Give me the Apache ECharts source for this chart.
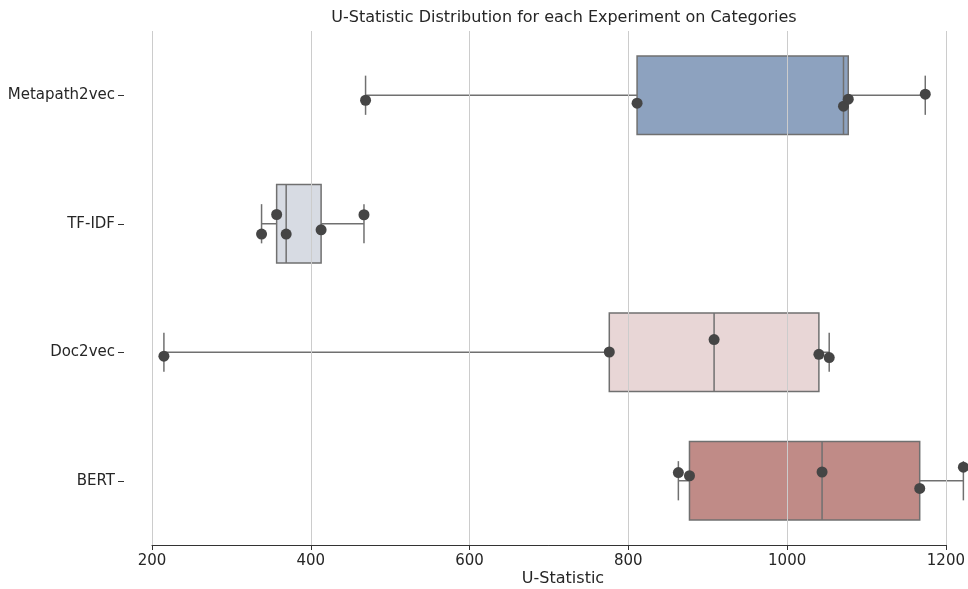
<!DOCTYPE html>
<html>
<head>
<meta charset="utf-8">
<script src="https://cdn.jsdelivr.net/npm/echarts@6/dist/echarts.min.js"></script>
<style>
  html, body { margin: 0; padding: 0; background: #ffffff; }
  #chart { width: 968px; height: 589px; }
</style>
</head>
<body>
<div id="chart"></div>
<script>
// ---- data ----
const categories = ['Metapath2vec', 'TF-IDF', 'Doc2vec', 'BERT'];
const metapath2vec = [469, 811, 1071, 1077, 1174];
const tfidf = [338, 357, 369, 413, 467];
const doc2vec = [215, 776, 908, 1040, 1053];
const bert = [863, 877, 1044, 1167, 1222];
// vertical strip-plot jitter (in category units), same order as the values
const jitterMetapath2vec = [0.039, 0.062, 0.085, 0.031, -0.008];
const jitterTfidf = [0.080, -0.072, 0.080, 0.047, -0.070];
const jitterDoc2vec = [0.031, -0.002, -0.099, 0.016, 0.041];
const jitterBert = [-0.064, -0.039, -0.068, 0.060, -0.106];
const xTicks = [200, 400, 600, 800, 1000, 1200];

const groups = [metapath2vec, tfidf, doc2vec, bert];
const jitters = [jitterMetapath2vec, jitterTfidf, jitterDoc2vec, jitterBert];
const boxColors = ['#8da2bf', '#d7dbe3', '#e8d6d6', '#c08b87'];

function quantile(sorted, p) {
  const pos = (sorted.length - 1) * p;
  const lo = Math.floor(pos), hi = Math.ceil(pos);
  return sorted[lo] + (sorted[hi] - sorted[lo]) * (pos - lo);
}
const boxData = groups.map((g, i) => {
  const s = g.slice().sort((a, b) => a - b);
  return [i, s[0], quantile(s, 0.25), quantile(s, 0.5), quantile(s, 0.75), s[s.length - 1]];
});
const pointData = [];
groups.forEach((g, i) => g.forEach((v, k) => pointData.push([v, i + jitters[i][k]])));

const FONT = 'DejaVu Sans';
const chart = echarts.init(document.getElementById('chart'), null, { renderer: 'canvas' });

chart.setOption({
  animation: false,
  backgroundColor: '#ffffff',
  title: [
    {
      text: 'U-Statistic Distribution for each Experiment on Categories',
      left: 564, top: 10, padding: 0, textAlign: 'center',
      textStyle: { fontFamily: FONT, fontSize: 16, fontWeight: 'normal', color: '#262626' }
    },
    {
      text: 'U-Statistic',
      left: 563, top: 571, padding: 0, textAlign: 'center',
      textStyle: { fontFamily: FONT, fontSize: 16, fontWeight: 'normal', color: '#262626' }
    }
  ],
  grid: { left: 152, width: 794, top: 31, height: 514, containLabel: false },
  xAxis: {
    type: 'value', min: xTicks[0], max: xTicks[xTicks.length - 1], interval: 200,
    z: 2,
    axisLine: { show: true, onZero: false, lineStyle: { color: '#333333', width: 1 } },
    axisTick: { show: true, length: 5, lineStyle: { color: '#333333' } },
    axisLabel: { fontFamily: FONT, fontSize: 15, color: '#262626', margin: 9,
                 formatter: function (v) { return String(v); } },
    splitLine: { show: true, lineStyle: { color: '#cccccc', width: 1 } }
  },
  yAxis: [
    {
      type: 'category', data: categories, inverse: true, offset: 28,
      axisLine: { show: false },
      axisTick: { show: true, alignWithLabel: true, length: 6, lineStyle: { color: '#333333' } },
      axisLabel: { fontFamily: FONT, fontSize: 15, color: '#262626', margin: 9 },
      splitLine: { show: false }
    },
    { type: 'value', min: -0.5, max: 3.5, inverse: true, show: false }
  ],
  series: [
    {
      type: 'custom', z: 1, clip: false,
      encode: { x: [1, 2, 3, 4, 5], y: 0 },
      data: boxData,
      renderItem: function (params, api) {
        const ci = api.value(0);
        const mn = api.coord([api.value(1), ci]);
        const q1 = api.coord([api.value(2), ci]);
        const md = api.coord([api.value(3), ci]);
        const q3 = api.coord([api.value(4), ci]);
        const mx = api.coord([api.value(5), ci]);
        const band = api.size([0, 1])[1];
        const h = band * 0.61;
        const y = q1[1];
        const edge = { stroke: '#707070', lineWidth: 1.5 };
        return {
          type: 'group',
          children: [
            { type: 'line', shape: { x1: mn[0], y1: y, x2: q1[0], y2: y }, style: edge },
            { type: 'line', shape: { x1: q3[0], y1: y, x2: mx[0], y2: y }, style: edge },
            { type: 'line', shape: { x1: mn[0], y1: y - h / 4, x2: mn[0], y2: y + h / 4 }, style: edge },
            { type: 'line', shape: { x1: mx[0], y1: y - h / 4, x2: mx[0], y2: y + h / 4 }, style: edge },
            { type: 'rect', shape: { x: q1[0], y: y - h / 2, width: q3[0] - q1[0], height: h },
              style: { fill: boxColors[ci], stroke: '#707070', lineWidth: 1.5 } },
            { type: 'line', shape: { x1: md[0], y1: y - h / 2, x2: md[0], y2: y + h / 2 }, style: edge }
          ]
        };
      }
    },
    {
      type: 'scatter', yAxisIndex: 1, z: 3, clip: false,
      symbol: 'circle', symbolSize: 11,
      itemStyle: { color: '#454545', opacity: 1 },
      data: pointData
    }
  ]
});
</script>
</body>
</html>
